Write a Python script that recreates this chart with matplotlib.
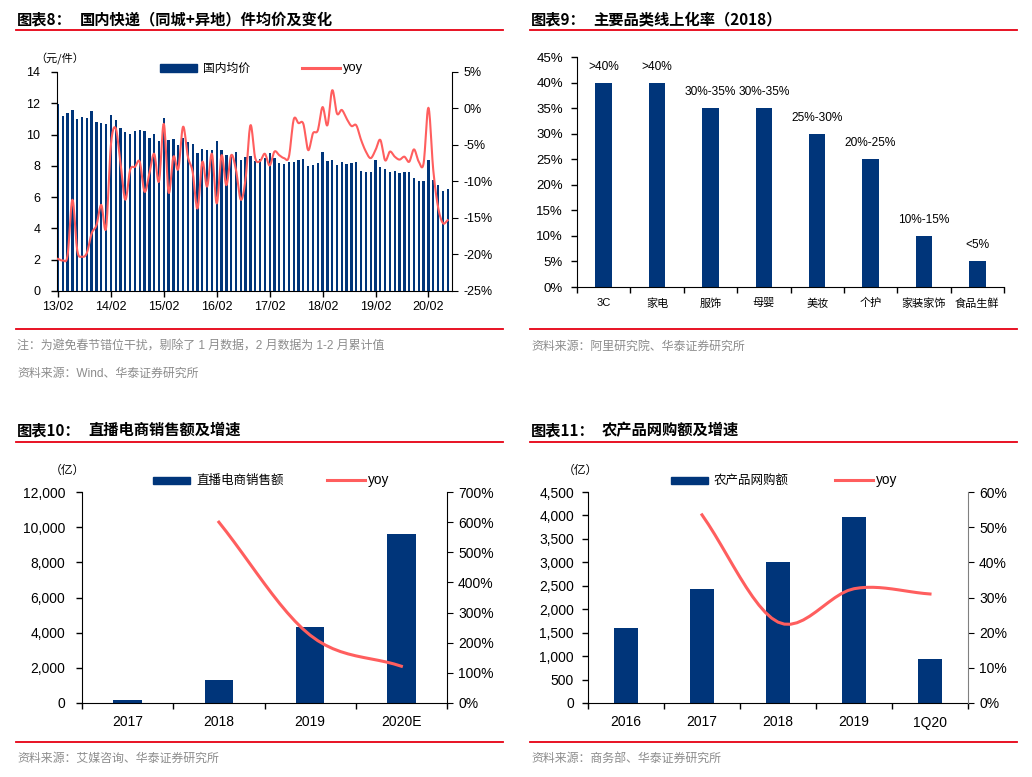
import numpy as np
import matplotlib
matplotlib.use("Agg")
import matplotlib.pyplot as plt
from matplotlib.lines import Line2D
from matplotlib.patches import Rectangle
from matplotlib.ticker import FuncFormatter, FixedLocator

# ---- chart 8: express parcel average price (Feb 2013 - Jun 2020, Jan excluded)
price_ticklabels = ["13/02", "14/02", "15/02", "16/02", "17/02", "18/02", "19/02", "20/02"]
avg_price = [11.95, 11.2, 11.4, 11.6, 10.98, 11.1, 11.08, 11.5, 10.8, 10.72, 10.66,
             11.25, 10.9, 10.4, 10.15, 10.05, 10.23, 10.28, 10.2, 9.8, 10.06, 9.6,
             11.05, 9.66, 9.72, 9.32, 9.8, 9.55, 9.38, 8.8, 9.08, 9.0, 9.0,
             9.6, 9.02, 8.7, 8.7, 8.87, 8.38, 8.55, 8.6, 8.32, 8.42, 8.49,
             8.85, 8.49, 8.17, 8.12, 8.27, 8.23, 8.36, 8.42, 8.0, 8.06, 8.2,
             8.87, 8.32, 8.36, 8.08, 8.25, 8.15, 8.17, 8.23, 7.65, 7.6, 7.63,
             8.38, 7.95, 7.78, 7.63, 7.7, 7.57, 7.61, 7.61, 7.2, 7.06, 7.06,
             8.38, 7.1, 6.75, 6.4, 6.52]
price_yoy = [-20.6, -20.8, -20.1, -12.5, -19.4, -20.3, -19.8, -17.1, -16.0, -13.2, -16.4,
             -5.0, -2.7, -7.5, -12.5, -8.4, -8.0, -7.3, -11.4, -8.9, -6.2, -10.0,
             -2.1, -11.5, -6.6, -8.3, -2.5, -6.6, -8.7, -13.7, -7.3, -10.7, -6.2,
             -13.0, -6.4, -10.5, -6.4, -8.4, -12.5, -9.6, -2.3, -6.8, -7.2, -6.2,
             -7.8, -5.9, -6.4, -6.8, -6.6, -1.5, -2.0, -2.1, -5.7, -3.4, -3.0,
             0.2, -2.3, 2.5, -0.7, -0.2, -1.4, -2.4, -2.3, -4.3, -5.9, -6.8,
             -5.7, -4.3, -7.1, -5.9, -6.6, -7.0, -6.6, -7.3, -5.6, -7.3, -7.5,
             0.1, -8.4, -13.5, -15.7, -15.3]

# ---- chart 9: online penetration by category (2018)
cat_names = ["3C", "家电", "服饰", "母婴", "美妆", "个护", "家装家饰", "食品生鲜"]
cat_rate = [40, 40, 35, 35, 30, 25, 10, 5]
cat_labels = [">40%", ">40%", "30%-35%", "30%-35%", "25%-30%", "20%-25%", "10%-15%", "<5%"]

# ---- chart 10: live-stream e-commerce sales
live_years = ["2017", "2018", "2019", "2020E"]
live_sales = [190, 1330, 4330, 9610]
live_yoy = [None, 600, 225, 122]

# ---- chart 11: online sales of farm products
farm_years = ["2016", "2017", "2018", "2019", "1Q20"]
farm_sales = [1590, 2440, 3000, 3975, 940]
farm_yoy = [None, 53.5, 23.0, 32.5, 31.0]

NAVY = "#00357A"
LINE_RED = "#FF5E5E"
SEP_RED = "#E60012"
GRAY = "#8C8C8C"

plt.rcParams["font.family"] = ["Liberation Sans", "Noto Sans CJK SC", "DejaVu Sans"]
plt.rcParams["axes.unicode_minus"] = False

W, H = 1032, 777
fig = plt.figure(figsize=(W / 100, H / 100), dpi=100)


def px_axes(x0, y0, x1, y1):
    return fig.add_axes([x0 / W, 1 - y1 / H, (x1 - x0) / W, (y1 - y0) / H])


def ftext(x, y, s, **kw):
    kw.setdefault("va", "center")
    fig.text(x / W, 1 - y / H, s, **kw)


def hline(x0, x1, y, color=SEP_RED, lw=1.3):
    fig.add_artist(Line2D([x0 / W, x1 / W], [1 - y / H, 1 - y / H], color=color, lw=lw))


def legend_items(x_bar, x_line, y, bar_text, size):
    fig.add_artist(Rectangle((x_bar / W, 1 - (y + 3.5) / H), 37 / W, 7 / H,
                             color=NAVY, transform=fig.transFigure))
    ftext(x_bar + 43, y, bar_text, fontsize=size, family=["Noto Sans CJK SC"])
    fig.add_artist(Line2D([x_line / W, (x_line + 38) / W], [1 - y / H, 1 - y / H],
                          color=LINE_RED, lw=2.2))
    ftext(x_line + 41, y, "yoy", fontsize=size + 0.8)


def smooth_curve(x, y, steps=12):
    x = np.asarray(x, float)
    y = np.asarray(y, float)
    px = np.concatenate([[2 * x[0] - x[1]], x, [2 * x[-1] - x[-2]]])
    py = np.concatenate([[2 * y[0] - y[1]], y, [2 * y[-1] - y[-2]]])
    t = np.linspace(0, 1, steps, endpoint=False)
    xs, ys = [], []
    for i in range(1, len(px) - 2):
        for arr, out in ((px, xs), (py, ys)):
            p0, p1, p2, p3 = arr[i - 1], arr[i], arr[i + 1], arr[i + 2]
            out.extend(0.5 * (2 * p1 + (-p0 + p2) * t + (2 * p0 - 5 * p1 + 4 * p2 - p3) * t ** 2
                              + (-p0 + 3 * p1 - 3 * p2 + p3) * t ** 3))
    xs.append(x[-1])
    ys.append(y[-1])
    return np.array(xs), np.array(ys)


def style_axes(ax):
    for s in ["top", "right"]:
        ax.spines[s].set_visible(False)
    ax.tick_params(direction="out", length=4, width=1)


def category_axis(ax, names, size):
    n = len(names)
    ax.set_xlim(-0.5, n - 0.5)
    ax.xaxis.set_major_locator(FixedLocator(np.arange(-0.5, n, 1.0)))
    ax.xaxis.set_major_formatter(FuncFormatter(lambda v, p: ""))
    ax.set_xticks(np.arange(n), names, minor=True)
    ax.tick_params(axis="x", which="major", length=4, direction="out")
    ax.tick_params(axis="x", which="minor", length=0, labelsize=size)


def title(x, y, num, text, x_text):
    ftext(x, y, num, fontsize=11, fontweight="bold", family=["Noto Sans CJK SC"])
    ftext(x_text, y, text, fontsize=11, fontweight="bold", family=["Noto Sans CJK SC"])


# ================= chart 8 =================
title(17, 19, "图表8：", "国内快递（同城+异地）件均价及变化", 80)
hline(16, 503, 30)
ax1 = px_axes(57, 72, 452, 291)
x1 = np.arange(len(avg_price))
ax1.bar(x1, avg_price, width=0.48, color=NAVY)
ax1.set_xlim(-0.2, len(avg_price) - 0.1)
ax1.set_ylim(0, 14)
ax1.set_yticks(range(0, 15, 2))
ax1.set_xticks(np.arange(0, len(avg_price), 11)[:len(price_ticklabels)], price_ticklabels)
style_axes(ax1)
ax1.tick_params(labelsize=9)
ax1.tick_params(axis="y", pad=8)
ax1b = ax1.twinx()
sx, sy = smooth_curve(x1, price_yoy)
ax1b.plot(sx, sy, color=LINE_RED, lw=1.5)
ax1b.set_ylim(-25, 5)
ax1b.set_yticks(range(-25, 6, 5))
ax1b.yaxis.set_major_formatter(FuncFormatter(lambda v, p: f"{v:.0f}%"))
for s in ["top", "left", "bottom"]:
    ax1b.spines[s].set_visible(False)
ax1b.tick_params(direction="out", length=4, labelsize=9, pad=4)
ftext(60, 59, "（元/件）", fontsize=8, ha="center", family=["Noto Sans CJK SC"])
legend_items(160, 302, 68, "国内均价", 8.5)
hline(16, 503, 329)
ftext(17, 347, "注：为避免春节错位干扰，剔除了 1 月数据，2 月数据为 1-2 月累计值",
      fontsize=8.6, color=GRAY)
ftext(17, 374, "资料来源：Wind、华泰证券研究所", fontsize=8.6, color=GRAY)

# ================= chart 9 =================
title(531, 19, "图表9：", "主要品类线上化率（2018）", 593)
hline(530, 1017, 30)
ax2 = px_axes(577, 57, 1004, 287)
x2 = np.arange(len(cat_rate))
ax2.bar(x2, cat_rate, width=0.31, color=NAVY)
for xi, v, lab in zip(x2, cat_rate, cat_labels):
    ax2.annotate(lab, (xi, v), xytext=(0, 11.5), textcoords="offset points",
                 ha="center", va="center", fontsize=8.6)
ax2.set_ylim(0, 45)
ax2.set_yticks(range(0, 46, 5))
ax2.yaxis.set_major_formatter(FuncFormatter(lambda v, p: f"{v:.0f}%"))
style_axes(ax2)
ax2.tick_params(axis="y", labelsize=9.5, pad=6)
category_axis(ax2, cat_names, 8)
ax2.tick_params(axis="x", which="minor", pad=8)
hline(530, 1017, 329)
ftext(531, 347, "资料来源：阿里研究院、华泰证券研究所", fontsize=8.6, color=GRAY)

# ================= chart 10 =================
title(17, 430, "图表10：", "直播电商销售额及增速", 88)
hline(16, 503, 442)
ax3 = px_axes(82, 492, 447, 703)
x3 = np.arange(len(live_sales))
ax3.bar(x3, live_sales, width=0.31, color=NAVY)
ax3.set_ylim(0, 12000)
ax3.set_yticks(range(0, 12001, 2000))
ax3.yaxis.set_major_formatter(FuncFormatter(lambda v, p: f"{v:,.0f}"))
style_axes(ax3)
ax3.tick_params(axis="y", labelsize=10, pad=8)
category_axis(ax3, live_years, 10)
ax3.tick_params(axis="x", which="minor", pad=9)
ax3b = ax3.twinx()
idx = [i for i, v in enumerate(live_yoy) if v is not None]
sx, sy = smooth_curve(idx, [live_yoy[i] for i in idx])
ax3b.plot(sx, sy, color=LINE_RED, lw=2.2)
ax3b.set_ylim(0, 700)
ax3b.set_yticks(range(0, 701, 100))
ax3b.yaxis.set_major_formatter(FuncFormatter(lambda v, p: f"{v:.0f}%"))
for s in ["top", "left", "bottom"]:
    ax3b.spines[s].set_visible(False)
ax3b.tick_params(direction="out", length=4, labelsize=10, pad=4)
ftext(67, 470, "（亿）", fontsize=8.5, ha="center", family=["Noto Sans CJK SC"])
legend_items(153, 327, 480, "直播电商销售额", 9)
hline(16, 503, 742)
ftext(17, 759, "资料来源：艾媒咨询、华泰证券研究所", fontsize=8.6, color=GRAY)

# ================= chart 11 =================
title(531, 430, "图表11：", "农产品网购额及增速", 602)
hline(530, 1017, 442)
ax4 = px_axes(588, 492, 968, 703)
x4 = np.arange(len(farm_sales))
ax4.bar(x4, farm_sales, width=0.31, color=NAVY)
ax4.set_ylim(0, 4500)
ax4.set_yticks(range(0, 4501, 500))
ax4.yaxis.set_major_formatter(FuncFormatter(lambda v, p: f"{v:,.0f}"))
style_axes(ax4)
ax4.tick_params(axis="y", labelsize=10, pad=6)
category_axis(ax4, farm_years, 10)
ax4.tick_params(axis="x", which="minor", pad=9)
ax4b = ax4.twinx()
idx = [i for i, v in enumerate(farm_yoy) if v is not None]
sx, sy = smooth_curve(idx, [farm_yoy[i] for i in idx])
ax4b.plot(sx, sy, color=LINE_RED, lw=2.2)
ax4b.set_ylim(0, 60)
ax4b.set_yticks(range(0, 61, 10))
ax4b.yaxis.set_major_formatter(FuncFormatter(lambda v, p: f"{v:.0f}%"))
for s in ["top", "left", "bottom"]:
    ax4b.spines[s].set_visible(False)
ax4b.spines["right"].set_color("#808080")
ax4b.tick_params(direction="out", length=4, labelsize=10, pad=4)
ftext(580, 470, "（亿）", fontsize=8.5, ha="center", family=["Noto Sans CJK SC"])
legend_items(671, 835, 480, "农产品网购额", 9)
hline(530, 1017, 742)
ftext(531, 759, "资料来源：商务部、华泰证券研究所", fontsize=8.6, color=GRAY)

fig.savefig("out.png", dpi=100)
